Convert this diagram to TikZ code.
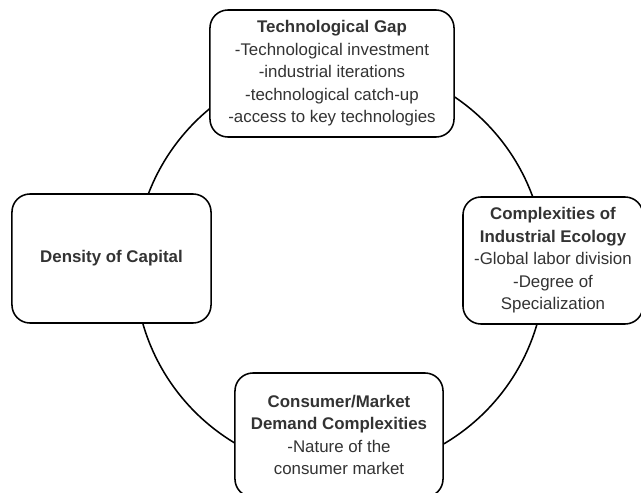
\documentclass[tikz,border=0pt]{standalone}
\usepackage{fontspec}
\setmainfont{Liberation Sans}
\definecolor{labelgray}{HTML}{333333}
\begin{document}
\begin{tikzpicture}
  [x=0.025cm,y=-0.025cm,
   factor/.style={draw,fill=white,line width=1.1pt,rounded corners=0.45cm,
     align=center,text=labelgray,inner sep=2pt,
     font=\fontsize{12}{16}\selectfont},
   ring/.style={draw,line width=1.1pt}]
  \useasboundingbox (0,0) rectangle (641,493);

  \coordinate (hub) at (340,267);
  \draw [ring] (hub) circle [radius=5.125cm];

  \node (gap) at (332,73.5) [factor,minimum width=6.1cm,minimum height=3.175cm]
    {\textbf{Technological Gap}\\-Technological investment\\-industrial iterations\\
     -technological catch-up\\-access to key technologies};
  \node (capital) at (111.5,258.5) [factor,minimum width=4.975cm,minimum height=3.225cm]
    {\textbf{Density of Capital}};
  \node (ecology) at (553,260.5) [factor,minimum width=4.5cm,minimum height=3.175cm]
    {\textbf{Complexities of}\\\textbf{Industrial Ecology}\\-Global labor division\\
     -Degree of\\Specialization};
  \node (market) at (339,435) [factor,minimum width=5.2cm,minimum height=3.1cm]
    {\textbf{Consumer/Market}\\\textbf{Demand Complexities}\\-Nature of the\\consumer market};
\end{tikzpicture}
\end{document}
